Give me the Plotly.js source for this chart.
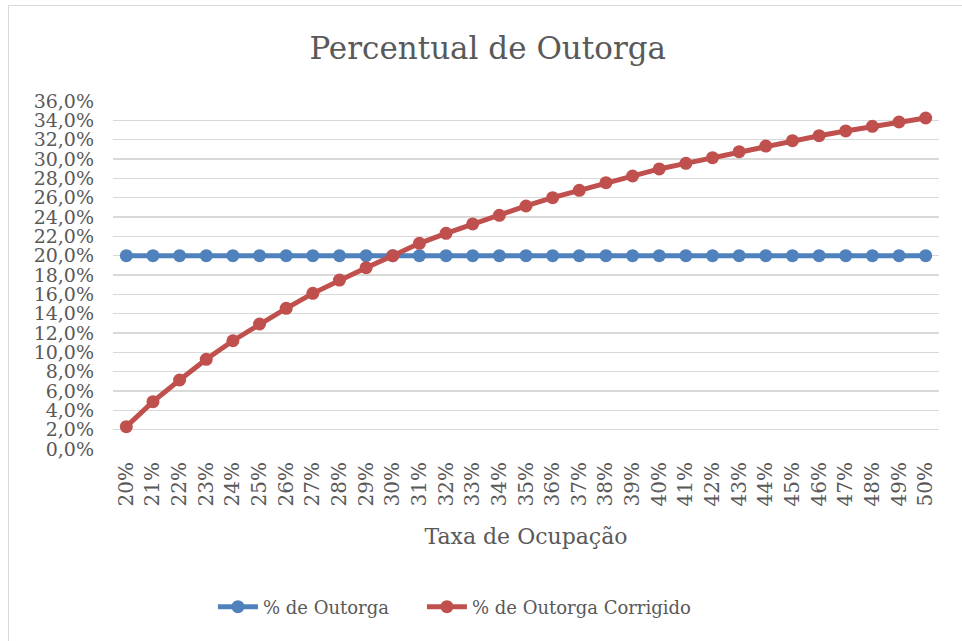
<!DOCTYPE html>
<html>
<head>
<meta charset="utf-8">
<script src="https://cdn.plot.ly/plotly-3.0.1.min.js"></script>
<style>
html,body{margin:0;padding:0;background:#fff;overflow:hidden;}
#frame{position:absolute;left:8px;top:5px;width:1200px;height:1200px;border:1px solid #d9d9d9;box-sizing:border-box;}
#chart{position:absolute;left:0;top:0;width:962px;height:641px;}
</style>
</head>
<body>
<div id="frame"></div>
<div id="chart"></div>
<script>
const categories = ["20%","21%","22%","23%","24%","25%","26%","27%","28%","29%","30%",
  "31%","32%","33%","34%","35%","36%","37%","38%","39%","40%",
  "41%","42%","43%","44%","45%","46%","47%","48%","49%","50%"];
const outorga = [0.20,0.20,0.20,0.20,0.20,0.20,0.20,0.20,0.20,0.20,0.20,
  0.20,0.20,0.20,0.20,0.20,0.20,0.20,0.20,0.20,0.20,
  0.20,0.20,0.20,0.20,0.20,0.20,0.20,0.20,0.20,0.20];
const outorgaCorrigido = [0.0231,0.0490,0.0714,0.0928,0.1120,0.1293,0.1455,0.1610,0.1748,0.1876,0.2000,
  0.2128,0.2231,0.2328,0.2417,0.2514,0.2600,0.2676,0.2755,0.2824,0.2897,
  0.2955,0.3014,0.3076,0.3134,0.3190,0.3241,0.3290,0.3338,0.3383,0.3424];
const seriesNames = ["% de Outorga","% de Outorga Corrigido"];

const FONT = "DejaVu Serif, serif";
const TXT = "#595959";

const traces = [
  {x: categories, y: outorga, name: seriesNames[0], type: "scatter", mode: "lines+markers",
   line: {color: "#4F81BD", width: 5}, marker: {color: "#4F81BD", size: 13}, legend: "legend"},
  {x: categories, y: outorgaCorrigido, name: seriesNames[1], type: "scatter", mode: "lines+markers",
   line: {color: "#C0504D", width: 5}, marker: {color: "#C0504D", size: 13}, legend: "legend2"}
];

const legendBase = {orientation: "h", xanchor: "left", y: -0.454, yanchor: "middle",
  font: {family: FONT, size: 18, color: TXT}, bgcolor: "rgba(0,0,0,0)", itemwidth: 40};

const layout = {
  width: 962, height: 641,
  paper_bgcolor: "rgba(0,0,0,0)", plot_bgcolor: "rgba(0,0,0,0)",
  separators: ",.",
  margin: {l: 113, r: 23, t: 101, b: 192},
  font: {family: FONT, color: TXT},
  title: {text: "Percentual de Outorga", font: {family: FONT, size: 31, color: TXT},
          x: 0.507, xref: "container", xanchor: "center", y: 0.925, yref: "container", yanchor: "middle"},
  xaxis: {type: "category", range: [-0.5, 30.5], tickangle: -90, showgrid: false, zeroline: false,
          showline: false, ticks: "", ticklabelstandoff: 8,
          tickfont: {family: FONT, size: 20, color: TXT},
          title: {text: "Taxa de Ocupação", font: {family: FONT, size: 22, color: TXT}, standoff: 23}},
  yaxis: {range: [0, 0.36], dtick: 0.02, tick0: 0, tickformat: ".1%", showgrid: true,
          gridcolor: "#D9D9D9", gridwidth: 1.3, zeroline: false, showline: false, ticks: "",
          ticklabelstandoff: 18, tickfont: {family: FONT, size: 19, color: TXT}},
  showlegend: true,
  legend: Object.assign({}, legendBase, {x: 0.121}),
  legend2: Object.assign({}, legendBase, {x: 0.374}),
  hovermode: false
};

Plotly.newPlot("chart", traces, layout, {staticPlot: true, displayModeBar: false});
</script>
</body>
</html>
